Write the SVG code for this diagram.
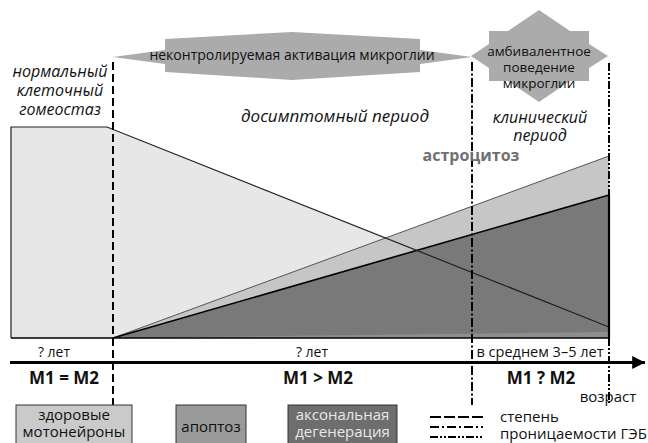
<svg xmlns="http://www.w3.org/2000/svg" width="648" height="443" viewBox="0 0 648 443">
<defs>
<style>
text{font-family:"Open Sans","Noto Sans","Liberation Sans",sans-serif;fill:#111;}
.it{font-style:italic;font-size:16px;}
.lb{font-size:14px;}
.sl{font-size:13.5px;}
.bd{font-weight:bold;font-size:17px;}
.ban{fill:#ababab;}
.lg{font-size:15px;}
.vl{fill:none;stroke:#000;stroke-width:2;}
</style>
<marker id="ah" viewBox="0 0 10 10" refX="10" refY="5" markerWidth="6" markerHeight="4" orient="auto" markerUnits="strokeWidth"><path d="M0,0L10,5L0,10z" fill="#000"/></marker>
</defs>
<rect width="648" height="443" fill="#fff"/>

<g id="chart">
<polygon points="11,127 107,127 609,327 609,338 11,338" fill="#e7e7e7"/>
<polygon points="113,338 609,156 609,338" fill="#c6c6c6"/>
<polygon points="113,338 609,195 609,338" fill="#797979"/>
<polygon points="113,338 609,332 609,338" fill="#8e8e8e"/>
<line x1="113" y1="338" x2="609" y2="156" stroke="#555" stroke-width="1"/>
<line x1="113" y1="338" x2="609" y2="195" stroke="#000" stroke-width="1.6"/>
<polyline points="11,338 11,127 107,127 609,327" fill="none" stroke="#222" stroke-width="1.2"/>
<line x1="609" y1="195" x2="609" y2="338" stroke="#000" stroke-width="2.2"/>
<line x1="11" y1="338" x2="610" y2="338" stroke="#000" stroke-width="1.6"/>
</g>

<g id="connectors">
<line class="vl" x1="113" y1="62" x2="113" y2="405" stroke-dasharray="8,4"/>
<line class="vl" x1="472" y1="62" x2="472" y2="405" stroke-dasharray="9,2.5,2,2.5"/>
<line class="vl" x1="609" y1="63" x2="609" y2="195" stroke-dasharray="8,2,2,2,2,2"/>
<line class="vl" x1="609" y1="338" x2="609" y2="403" stroke-dasharray="8,2,2,2,2,2"/>
<line x1="10" y1="362.5" x2="645" y2="362.5" stroke="#000" stroke-width="3.2" marker-end="url(#ah)"/>
</g>

<g id="banner-activation">
<polygon class="ban" points="113,57 165,50 165,39 292,32 420,39 420,50 472,57 420,64 420,72 292,80 165,72 165,64"/>
<text class="lb" x="292" y="60" text-anchor="middle">неконтролируемая активация микроглии</text>
</g>

<g id="banner-ambivalent">
<polygon class="ban" points="539,10 570,31 589,31 589,44 608,56 589,68 589,81 570,81 539,102 508,81 489,81 489,68 471,56 489,44 489,31 508,31"/>
<text class="sl" x="539" y="56" text-anchor="middle">амбивалентное</text>
<text class="sl" x="539" y="72" text-anchor="middle">поведение</text>
<text class="sl" x="539" y="88" text-anchor="middle">микроглии</text>
</g>

<g id="label-normal">
<text class="it" x="60" y="77" text-anchor="middle">нормальный</text>
<text class="it" x="60" y="96" text-anchor="middle">клеточный</text>
<text class="it" x="60" y="115" text-anchor="middle">гомеостаз</text>
</g>
<g id="label-presymptomatic">
<text class="it" x="335" y="122" text-anchor="middle" style="font-size:17px">досимптомный период</text>
</g>
<g id="label-clinical">
<text class="it" x="540" y="123" text-anchor="middle">клинический</text>
<text class="it" x="540" y="141" text-anchor="middle">период</text>
</g>
<g id="label-astro">
<text x="471" y="161" text-anchor="middle" style="font-weight:bold;font-size:16px;fill:#707070">астроцитоз</text>
</g>

<g id="timeline-labels">
<text class="lb" x="54" y="357" text-anchor="middle">? лет</text>
<text class="lb" x="312" y="357" text-anchor="middle">? лет</text>
<text class="lb" x="540" y="357" text-anchor="middle" style="font-size:14.5px">в среднем 3–5 лет</text>
<text class="bd" x="64" y="384" text-anchor="middle">М1 = М2</text>
<text class="bd" x="318" y="384" text-anchor="middle">М1 &gt; М2</text>
<text class="bd" x="541" y="384" text-anchor="middle">М1 ? М2</text>
<text class="lg" x="608" y="402" text-anchor="middle">возраст</text>
</g>

<g id="legend-healthy">
<rect x="16" y="405" width="116" height="42" fill="#cacaca" stroke="#333" stroke-width="1"/>
<text class="lg" x="74" y="420" text-anchor="middle">здоровые</text>
<text class="lg" x="74" y="437" text-anchor="middle">мотонейроны</text>
</g>
<g id="legend-apoptosis">
<rect x="176" y="405" width="70" height="42" fill="#9a9a9a" stroke="#333" stroke-width="1"/>
<text class="lg" x="211" y="432" text-anchor="middle">апоптоз</text>
</g>
<g id="legend-axonal">
<rect x="288" y="405" width="109" height="42" fill="#6e6e6e" stroke="#333" stroke-width="1"/>
<text class="lg" x="342.5" y="420" text-anchor="middle" style="fill:#e8e8e8">аксональная</text>
<text class="lg" x="342.5" y="437" text-anchor="middle" style="fill:#e8e8e8">дегенерация</text>
</g>
<g id="legend-bbb">
<line class="vl" x1="430" y1="417" x2="483" y2="417" stroke-width="2.5" stroke-dasharray="11,3"/>
<line class="vl" x1="430" y1="427" x2="483" y2="427" stroke-width="2.5" stroke-dasharray="9,3,2,3"/>
<line class="vl" x1="430" y1="437" x2="483" y2="437" stroke-width="2.5" stroke-dasharray="8,2,2,2,2,2"/>
<text class="lg" x="500" y="422">степень</text>
<text class="lg" x="500" y="439">проницаемости ГЭБ</text>
</g>
</svg>
